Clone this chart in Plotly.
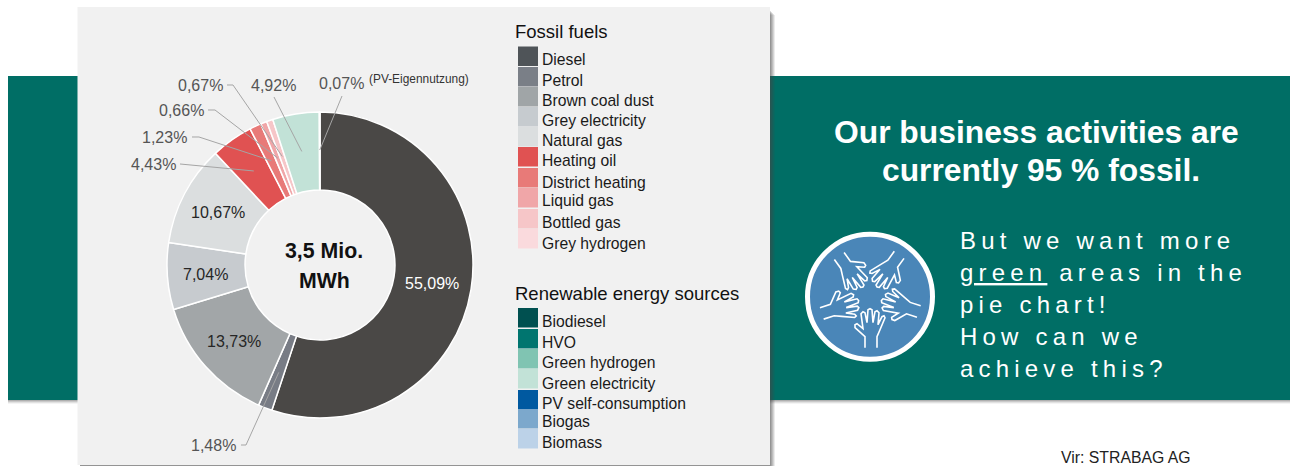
import math
import plotly.graph_objects as go

W, H = 1290, 466

# --- Data ---
slice_names = ["Diesel", "Petrol", "Brown coal dust", "Grey electricity", "Natural gas",
               "Heating oil", "District heating", "Liquid gas", "Bottled gas",
               "Green electricity", "PV self-consumption"]
slice_values = [55.09, 1.48, 13.73, 7.04, 10.67, 4.43, 1.23, 0.66, 0.67, 4.92, 0.07]
slice_colors = ["#4a4846", "#787c85", "#a2a6a8", "#c7cbcf", "#dbdedf",
                "#e05252", "#e87a78", "#f0a6a8", "#f6c6c8", "#c2e2d7", "#0059a0"]

fossil_names = ["Diesel", "Petrol", "Brown coal dust", "Grey electricity", "Natural gas",
                "Heating oil", "District heating", "Liquid gas", "Bottled gas", "Grey hydrogen"]
fossil_colors = ["#4f5458", "#7a7f87", "#a0a5a7", "#c6cbcf", "#dbdedf",
                 "#e05252", "#e87a78", "#f0a6a8", "#f6c6c8", "#fadadd"]
fossil_swatch_tops = [46.5, 67, 87, 107, 127, 147, 168, 188, 209, 229]
fossil_text_y = [60, 80, 100, 120, 140, 160, 182, 201, 222, 243]

renew_names = ["Biodiesel", "HVO", "Green hydrogen", "Green electricity",
               "PV self-consumption", "Biogas", "Biomass"]
renew_colors = ["#005050", "#00756f", "#80c4b2", "#c2e2d7", "#0059a0", "#7ca8cc", "#bcd2e8"]
renew_swatch_tops = [308, 329, 349, 369, 390, 409, 429]
renew_text_y = [321, 342, 362, 383, 403, 421, 442]

inside_labels = {0: "#ffffff", 2: "#262626", 3: "#262626", 4: "#262626"}
# slice index -> label edge x, y, elbow points
outside_labels = [
    (8, 223, 85, [(227, 85), (233, 85)]),
    (7, 204, 110, [(208, 110), (215, 110)]),
    (6, 187, 137, [(192, 137), (199, 137)]),
    (5, 176, 164, [(180, 164)]),
    (9, 296, 86, [(274, 97)]),
    (10, 364, 84, [(342, 96)]),
    (1, 236, 445, [(241, 445), (246, 445)]),
]
body_lines = [("But we want more", 240), ("<u>green</u> areas in the", 272),
              ("pie chart!", 304), ("How can we", 336), ("achieve this?", 368)]

FONT = "Liberation Sans, Arial, sans-serif"
TEAL = "#006e65"
cx, cy, R = 320, 265, 153


def px(x):
    return x / W


def py(y):
    return 1 - y / H


def rect(x0, y0, x1, y1, color, layer="below"):
    return dict(type="rect", xref="paper", yref="paper", x0=px(x0), x1=px(x1), y0=py(y0), y1=py(y1),
                fillcolor=color, line_width=0, layer=layer)


def text(x, y, s, size, color="#1a1a1a", anchor="left", bold=False):
    return dict(xref="paper", yref="paper", x=px(x), y=py(y), text=f"<b>{s}</b>" if bold else s,
                showarrow=False, xanchor=anchor, yanchor="middle", align=anchor, borderpad=0, borderwidth=0,
                font=dict(family=FONT, size=size, color=color))


def mid_angle(i):
    total = sum(slice_values)
    return (sum(slice_values[:i]) + slice_values[i] / 2) / total * 2 * math.pi


def ring_point(i, r):
    a = mid_angle(i)
    return cx + r * math.sin(a), cy - r * math.cos(a)


def polyline(pts, color, width):
    d = "M " + " L ".join(f"{px(x):.5f} {py(y):.5f}" for x, y in pts)
    return dict(type="path", xref="paper", yref="paper", path=d, line=dict(color=color, width=width), layer="above")


shapes = []
# soft shadow under the band
for off, alpha in [(4, 0.06), (3, 0.10), (2, 0.14), (1, 0.18)]:
    shapes.append(rect(8, 400, 1290, 400 + off, f"rgba(60,60,60,{alpha})"))
shapes.append(rect(8, 76, 1290, 400, TEAL))
# soft shadow of the grey panel
for off, alpha in [(5, 0.10), (4, 0.14), (3, 0.16), (2, 0.18), (1, 0.20)]:
    shapes.append(rect(80, 7 + off * 1.0 + 3, 770 + off, 465 + off, f"rgba(70,70,70,{alpha})"))
shapes.append(rect(77.5, 7, 770, 465, "#f1f1f1"))
annotations = []

# Legend
for names, colors, tops, ys in [(fossil_names, fossil_colors, fossil_swatch_tops, fossil_text_y),
                                (renew_names, renew_colors, renew_swatch_tops, renew_text_y)]:
    for n, c, t, y in zip(names, colors, tops, ys):
        shapes.append(rect(518, t, 538, t + 19.5, c))
        annotations.append(text(542, y, n, 15.7))
annotations.append(text(515, 31, "Fossil fuels", 18.5, "#111111"))
annotations.append(text(515, 293, "Renewable energy sources", 18.5, "#111111"))

# Labels in the ring
for i, col in inside_labels.items():
    x, y = ring_point(i, 114)
    annotations.append(text(x - 0.7, y + 0.8, f"{slice_values[i]:.2f}%".replace(".", ","), 16, col, "center"))

# Outer labels with leader lines
for i, x, y, elbow in outside_labels:
    lbl = f"{slice_values[i]:.2f}%".replace(".", ",")
    annotations.append(text(x, y, lbl, 16, "#555555", "right"))
    shapes.append(polyline(elbow + [ring_point(i, 115)], "#a5a5a5", 1))
annotations.append(text(369, 79, "(PV-Eigennutzung)", 11.9, "#333333"))

# Centre
annotations.append(text(324, 251, "3,5 Mio.", 21.3, "#111111", "center", True))
annotations.append(text(324, 281, "MWh", 21.3, "#111111", "center", True))

# Right column
annotations.append(text(1036.5, 131.5, "Our business activities are", 31.8, "#ffffff", "center", True))
annotations.append(text(1040.5, 170, "currently 95 % fossil.", 31.8, "#ffffff", "center", True))
for s, y in body_lines:
    annotations.append(text(960, y, s, 24, "#ffffff"))
annotations.append(text(1061, 457, "Vir: STRABAG AG", 15.8, "#222222"))

# Hands badge
bx, by = 870, 296.7
shapes.append(dict(type="circle", xref="paper", yref="paper", x0=px(bx - 62.5), x1=px(bx + 62.5),
                   y0=py(by - 62.5), y1=py(by + 62.5), fillcolor="#4a86b8",
                   line=dict(color="#ffffff", width=5), layer="below"))
hand = [(-5, 51), (-5, 40), (-15, 31), (-15, 28), (-13, 27), (-7, 32), (-9, 17), (-7, 15), (-5, 16), (-3, 26),
        (-2, 13), (0, 12), (2, 13), (3, 26), (5, 15), (7, 14), (9, 16), (8, 28), (12, 20), (14, 19), (15, 21),
        (10, 33), (7, 40), (7, 51)]
for k in range(5):
    a = k * 2 * math.pi / 5
    pts = [(bx + hx * math.cos(a) - hy * math.sin(a), by + hx * math.sin(a) + hy * math.cos(a)) for hx, hy in hand]
    shapes.append(polyline(pts, "#ffffff", 1.6))

fig = go.Figure(go.Pie(
    labels=slice_names, values=slice_values, sort=False, direction="clockwise", rotation=0,
    hole=0.49, textinfo="none", showlegend=False,
    marker=dict(colors=slice_colors, line=dict(color="#ffffff", width=1.5)),
    domain=dict(x=[px(cx - R), px(cx + R)], y=[py(cy + R), py(cy - R)]),
))
fig.update_layout(width=W, height=H, margin=dict(l=0, r=0, t=0, b=0), paper_bgcolor="#ffffff",
                  showlegend=False, shapes=shapes, annotations=annotations)

post = """
document.body.style.margin='0';
var spaced=['But we want more','green areas in the','pie chart!','How can we','achieve this?'];
function sp(){document.querySelectorAll('.annotation-text').forEach(function(t){
 if(spaced.indexOf(t.textContent)>=0){t.style.letterSpacing='5.2px';}});}
sp();setTimeout(sp,50);
"""
fig.write_html("out.html", post_script=post, config={"displayModeBar": False})
